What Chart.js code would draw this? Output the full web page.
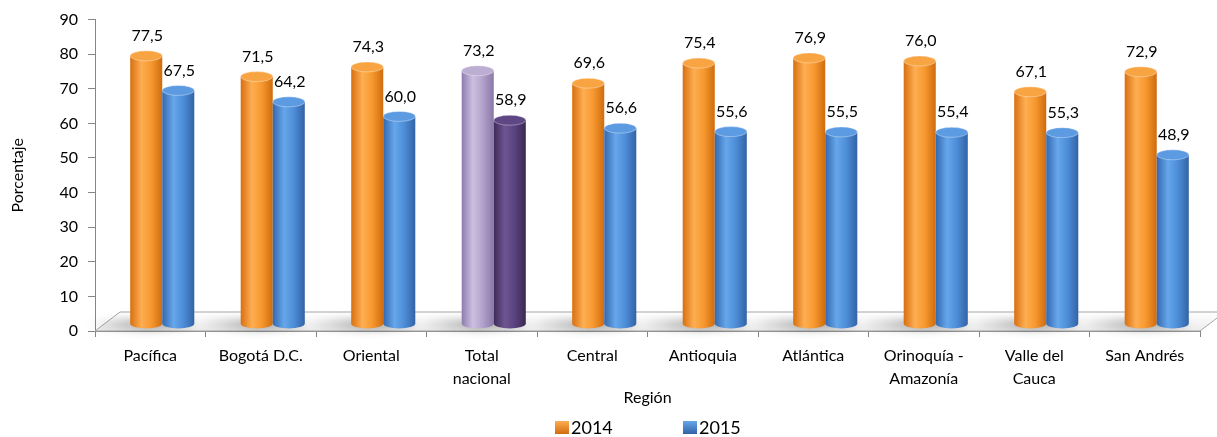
<!DOCTYPE html>
<html>
<head>
<meta charset="utf-8">
<script src="https://cdn.jsdelivr.net/npm/chart.js@4"></script>
<style>
  body { margin: 0; background: #fff; }
  #wrap { width: 1217px; height: 437px; position: relative; }
</style>
</head>
<body>
<div id="wrap"><canvas id="regionChart"></canvas></div>
<script>
// data
const categories = [['Pacífica'], ['Bogotá D.C.'], ['Oriental'], ['Total', 'nacional'], ['Central'],
  ['Antioquia'], ['Atlántica'], ['Orinoquía -', 'Amazonía'], ['Valle del', 'Cauca'], ['San Andrés']];
const seriesNames = ['2014', '2015'];
const values2014 = [77.5, 71.5, 74.3, 73.2, 69.6, 75.4, 76.9, 76.0, 67.1, 72.9];
const values2015 = [67.5, 64.2, 60.0, 58.9, 56.6, 55.6, 55.5, 55.4, 55.3, 48.9];
const yMin = 0, yMax = 90, yStep = 10;
const highlightIndex = 3; // Total nacional

// cylinder shading per series, plus the highlight (purple) version
const palettes = [
  { normal: ['#D86F10', '#FDAE52', '#F7992F', '#CF6C0E'], top: '#F9A443', hi: ['#8E7BAE', '#CDBFE0', '#B3A2CB', '#8A77A8'], hiTop: '#BCADD2' },
  { normal: ['#3468B0', '#66A6EA', '#4E8ED8', '#3263A6'], top: '#5C9BE2', hi: ['#3F2C58', '#6E5592', '#5A4380', '#3A2852'], hiTop: '#5E4784' }
];
const depthX = 12, depthY = -7; // 3d offset of the bars over the floor
const capRy = 5;
const FONT = 'Lato, "Open Sans", sans-serif';

Chart.defaults.font.family = FONT;
Chart.defaults.color = '#000';

function fmt(v) { return v.toFixed(1).replace('.', ','); }

function cylinderGradient(ctx, x0, x1, stops) {
  const g = ctx.createLinearGradient(x0, 0, x1, 0);
  g.addColorStop(0, stops[0]);
  g.addColorStop(0.35, stops[1]);
  g.addColorStop(0.65, stops[2]);
  g.addColorStop(1, stops[3]);
  return g;
}

const floorPlugin = {
  id: 'floor3d',
  beforeDatasetsDraw(chart) {
    const { ctx, chartArea: a } = chart;
    ctx.save();
    // floor plate
    const g = ctx.createLinearGradient(0, a.bottom - 19, 0, a.bottom);
    g.addColorStop(0, '#ffffff');
    g.addColorStop(1, '#ececec');
    ctx.beginPath();
    ctx.moveTo(a.left, a.bottom);
    ctx.lineTo(a.left + 25, a.bottom - 19);
    ctx.lineTo(a.right + 25, a.bottom - 19);
    ctx.lineTo(a.right, a.bottom);
    ctx.closePath();
    ctx.fillStyle = g;
    ctx.fill();
    ctx.strokeStyle = '#A6A6A6';
    ctx.lineWidth = 1;
    ctx.stroke();
    // soft shadows behind each pair of bars
    const m0 = chart.getDatasetMeta(0), m1 = chart.getDatasetMeta(1);
    ctx.filter = 'blur(4px)';
    m0.data.forEach((bar, i) => {
      const left = bar.x - bar.width / 2 + depthX - 45;
      const right = m1.data[i].x + m1.data[i].width / 2 + depthX;
      const sg = ctx.createLinearGradient(left, 0, right, 0);
      sg.addColorStop(0, 'rgba(0,0,0,0)');
      sg.addColorStop(0.6, 'rgba(0,0,0,0.35)');
      sg.addColorStop(1, 'rgba(0,0,0,0.2)');
      ctx.fillStyle = sg;
      ctx.beginPath();
      ctx.ellipse((left + right) / 2, bar.base + depthY + 1, (right - left) / 2, 5, 0, 0, Math.PI * 2);
      ctx.fill();
    });
    ctx.filter = 'none';
    ctx.restore();
    ctx.save();
    ctx.translate(depthX, depthY);
  },
  afterDatasetsDraw(chart) {
    const { ctx } = chart;
    chart.data.datasets.forEach((ds, di) => {
      const meta = chart.getDatasetMeta(di);
      const pal = palettes[di];
      meta.data.forEach((bar, i) => {
        const stops = i === highlightIndex ? pal.hi : pal.normal;
        const topCol = i === highlightIndex ? pal.hiTop : pal.top;
        const x0 = bar.x - bar.width / 2, x1 = bar.x + bar.width / 2, rx = bar.width / 2;
        ctx.fillStyle = cylinderGradient(ctx, x0, x1, stops);
        ctx.beginPath();
        ctx.moveTo(x0, bar.y);
        ctx.lineTo(x0, bar.base);
        ctx.ellipse(bar.x, bar.base, rx, capRy, 0, Math.PI, 0, true);
        ctx.lineTo(x1, bar.y);
        ctx.closePath();
        ctx.fill();
        ctx.beginPath();
        ctx.ellipse(bar.x, bar.y, rx, capRy, 0, 0, Math.PI * 2);
        ctx.fillStyle = topCol;
        ctx.fill();
        ctx.strokeStyle = 'rgba(255,255,255,0.35)';
        ctx.lineWidth = 1;
        ctx.stroke();
        // value label
        ctx.fillStyle = '#000';
        ctx.font = '16px ' + FONT;
        ctx.textAlign = 'center';
        ctx.textBaseline = 'middle';
        ctx.fillText(fmt(ds.data[i]), bar.x + 1, bar.y - capRy - 15);
      });
    });
    ctx.restore();
  },
  afterDraw(chart) {
    // legend drawn by hand so the two items keep their wide spacing
    const { ctx } = chart;
    const items = [{ x: 555, di: 0 }, { x: 683, di: 1 }];
    ctx.save();
    items.forEach(it => {
      const pal = palettes[it.di].normal;
      const g = ctx.createLinearGradient(0, 421, 0, 434);
      g.addColorStop(0, pal[1]);
      g.addColorStop(1, pal[3]);
      ctx.fillStyle = g;
      ctx.fillRect(it.x, 421, 14, 13);
      ctx.fillStyle = '#000';
      ctx.font = '18px ' + FONT;
      ctx.textAlign = 'left';
      ctx.textBaseline = 'middle';
      ctx.fillText(seriesNames[it.di], it.x + 16, 428);
    });
    ctx.restore();
  }
};

const ctx = document.getElementById('regionChart').getContext('2d');
const regionChart = new Chart(ctx, {
  type: 'bar',
  data: {
    labels: categories,
    datasets: [{
      label: seriesNames[0],
      data: values2014,
      backgroundColor: 'rgba(0,0,0,0)',
      borderWidth: 0
    }, {
      label: seriesNames[1],
      data: values2015,
      backgroundColor: 'rgba(0,0,0,0)',
      borderWidth: 0
    }]
  },
  options: {
    responsive: true,
    maintainAspectRatio: false,
    animation: false,
    categoryPercentage: 0.58,
    barPercentage: 1,
    layout: { padding: { top: 17, right: 17, left: 0, bottom: 0 } },
    scales: {
      x: {
        grid: { offset: true, drawOnChartArea: false, tickLength: 6, color: '#868686' },
        border: { color: '#868686' },
        ticks: { font: { size: 16, lineHeight: 1.4 }, padding: 8, maxRotation: 0, autoSkip: false },
        title: { display: true, text: 'Región', font: { size: 16 }, padding: { top: 2, bottom: 30 } },
        afterFit(scale) { scale.height = 106; }
      },
      y: {
        min: yMin,
        max: yMax,
        ticks: { stepSize: yStep, font: { size: 16 }, padding: 10 },
        grid: { drawOnChartArea: false, tickLength: 7, color: '#868686' },
        border: { color: '#868686' },
        title: { display: true, text: 'Porcentaje', font: { size: 16 }, padding: { top: 8, bottom: 0 } },
        afterFit(scale) { scale.width = 95; }
      }
    },
    plugins: {
      legend: { display: false },
      tooltip: { enabled: false }
    }
  },
  plugins: [floorPlugin]
});
</script>
</body>
</html>
